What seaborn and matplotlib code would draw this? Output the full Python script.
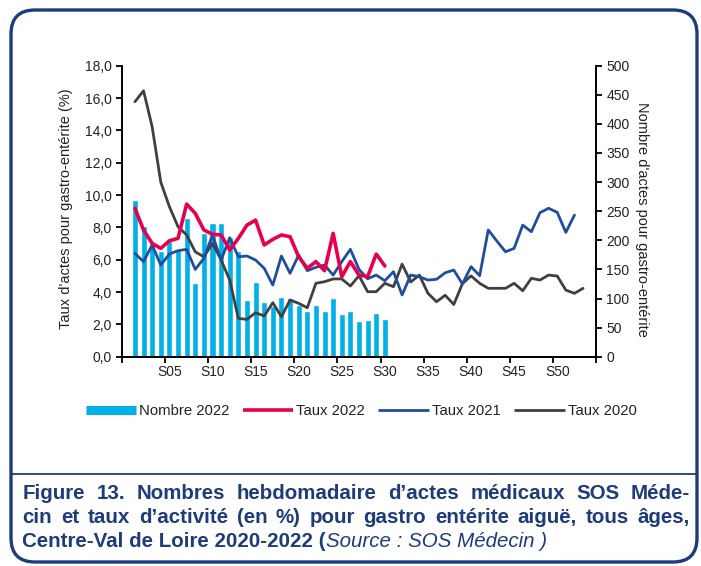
import numpy as np
import matplotlib
matplotlib.use('Agg')
import matplotlib.pyplot as plt
import matplotlib.transforms as mtransforms
from matplotlib.patches import FancyBboxPatch
from matplotlib.lines import Line2D
import seaborn as sns

# données
weeks_2022 = list(range(1, 31))
nombre_2022 = [269, 224, 195, 182, 198, 185, 239, 127, 213, 229, 229, 206, 182, 97, 129,
               94, 87, 103, 101, 89, 79, 89, 79, 101, 73, 79, 61, 63, 75, 65]
taux_2022 = [9.18, 7.84, 7.01, 6.70, 7.17, 7.32, 9.44, 8.87, 7.84, 7.57, 7.53, 6.60, 7.32, 8.14, 8.45,
             6.91, 7.26, 7.53, 7.42, 6.18, 5.47, 5.88, 5.32, 7.63, 4.95, 5.88, 5.05, 4.95, 6.35, 5.61]

weeks_2021 = list(range(1, 53))
taux_2021 = [6.39, 5.88, 6.91, 5.67, 6.35, 6.56, 6.64, 5.40, 6.08, 7.53, 5.98, 7.36, 6.18, 6.23, 5.98,
             5.47, 4.43, 6.23, 5.16, 6.29, 5.32, 5.53, 5.67, 5.05, 5.88, 6.64, 5.40, 4.82, 5.05, 4.70,
             5.26, 3.82, 5.05, 4.95, 4.74, 4.79, 5.19, 5.36, 4.50, 5.57, 5.01,
             7.84, 7.15, 6.49, 6.70, 8.14, 7.73, 8.91, 9.18, 8.93, 7.69, 8.76]

weeks_2020 = list(range(1, 54))
taux_2020 = [15.77, 16.45, 14.22, 10.80, 9.28, 8.04, 7.53, 6.49, 6.18, 7.01, 5.98, 4.74, 2.37, 2.31, 2.72,
             2.52, 3.34, 2.47, 3.51, 3.30, 3.03, 4.54, 4.64, 4.81, 4.81, 4.37, 5.01, 4.02, 4.02, 4.54,
             4.33, 5.73, 4.62, 5.05, 3.92, 3.40, 3.80, 3.23, 4.52, 5.00,
             4.54, 4.23, 4.23, 4.23, 4.54, 4.08, 4.85, 4.74, 5.05, 4.99, 4.12, 3.92, 4.23]

week_labels = ['S05', 'S10', 'S15', 'S20', 'S25', 'S30', 'S35', 'S40', 'S45', 'S50']
week_label_pos = [5, 10, 15, 20, 25, 30, 35, 40, 45, 50]

CYAN = '#00b0e6'
RED = '#e6004f'
BLUE = '#1f4e9c'
GRAY = '#404040'
NAVY = '#1e3b7a'

sns.set_style('ticks')
plt.rcParams['font.family'] = ['Liberation Sans', 'DejaVu Sans']

W, H = 701, 566
fig = plt.figure(figsize=(W / 100, H / 100), dpi=100)
ax = fig.add_axes([122 / W, 1 - 356.7 / H, (596 - 122) / W, (356.7 - 65.7) / H])
ax2 = ax.twinx()

sns.barplot(x=weeks_2022, y=nombre_2022, native_scale=True, ax=ax2, color=CYAN,
            saturation=1, width=0.7, errorbar=None)
sns.lineplot(x=weeks_2020, y=taux_2020, ax=ax, color=GRAY, lw=2)
sns.lineplot(x=weeks_2021, y=taux_2021, ax=ax, color=BLUE, lw=2)
sns.lineplot(x=weeks_2022, y=taux_2022, ax=ax, color=RED, lw=2.6)

ax.set_zorder(ax2.get_zorder() + 1)
ax.patch.set_visible(False)

ax.set_xlim(-0.5, 54.5)
ax.set_ylim(0, 18)
ax2.set_ylim(0, 500)

yt = np.arange(0, 18.1, 2)
ax.set_yticks(yt, [f"{v:.1f}".replace('.', ',') for v in yt])
ax2.set_yticks(range(0, 501, 50))
xt = np.arange(-0.5, 55, 5)
ax.set_xticks(xt, [''] * len(xt))
ax.set_xticks(week_label_pos, week_labels, minor=True)
ax.tick_params(axis='x', which='minor', length=0, pad=6)

for a in (ax, ax2):
    for s in a.spines.values():
        s.set_color('black')
        s.set_linewidth(1.4)
    a.spines['top'].set_visible(False)
    a.tick_params(which='major', direction='out', length=4, width=1.3, colors='black',
                  labelcolor='#222222', labelsize=10)
    a.tick_params(which='minor', labelcolor='#222222', labelsize=10)
ax.spines['right'].set_visible(False)
ax2.spines['left'].set_visible(False)
ax2.set_xlabel('')
ax.set_xlabel('')

ax.set_ylabel("Taux d'actes pour gastro-entérite (%)", fontsize=10.5, color='#222222')
ax.yaxis.set_label_coords(-0.104, 0.51)
ax2.set_ylabel("Nombre d'actes pour gastro-entérite", fontsize=10.5, color='#222222',
               rotation=-90, va='center')
ax2.yaxis.set_label_coords(1.098, 0.47)

handles = [Line2D([], [], color=CYAN, lw=6.5, solid_capstyle='butt'),
           Line2D([], [], color=RED, lw=2.6, solid_capstyle='butt'),
           Line2D([], [], color=BLUE, lw=2, solid_capstyle='butt'),
           Line2D([], [], color=GRAY, lw=2, solid_capstyle='butt')]
labels = ['Nombre 2022', 'Taux 2022', 'Taux 2021', 'Taux 2020']
leg = fig.legend(handles, labels, loc='center', bbox_to_anchor=(361 / W, 1 - 411 / H),
                 ncol=4, frameon=False, fontsize=10.7, handlelength=3.4,
                 handletextpad=0.2, columnspacing=0.9)
for t in leg.get_texts():
    t.set_color('#222222')

# cadre arrondi + séparateur
pix = mtransforms.IdentityTransform()
frame = FancyBboxPatch((11, H - 562), 686, 552, boxstyle='round,pad=0,rounding_size=24',
                       transform=pix, fill=False, ec=NAVY, lw=2.4)
fig.patches.append(frame)
fig.lines.append(Line2D([11 / W, 697 / W], [1 - 474.3 / H] * 2, transform=fig.transFigure,
                        color=NAVY, lw=1.3))

# légende de la figure (justifiée)
renderer = fig.canvas.get_renderer()
FS = 14.8
cap_kw = dict(fontsize=FS, fontweight='bold', color=NAVY, va='baseline', ha='left')


def justified(text, y_px, x0=22.5, x1=690):
    words = text.split(' ')
    objs = [fig.text(0, 1 - y_px / H, w, **cap_kw) for w in words]
    widths = [o.get_window_extent(renderer).width for o in objs]
    gap = (x1 - x0 - sum(widths)) / (len(words) - 1)
    x = x0
    for o, w in zip(objs, widths):
        o.set_x(x / W)
        x += w + gap


justified("Figure 13. Nombres hebdomadaire d’actes médicaux SOS Méde-", 499.3)
justified("cin et taux d’activité (en %) pour gastro entérite aiguë, tous âges,", 523)
t1 = fig.text(22.5 / W, 1 - 546.7 / H, "Centre-Val de Loire 2020-2022 (", **cap_kw)
w1 = t1.get_window_extent(renderer).width
fig.text((22.5 + w1) / W, 1 - 546.7 / H, "Source : SOS Médecin )", fontsize=FS, style='italic',
         color=NAVY, va='baseline', ha='left')

fig.savefig('out.png', dpi=100)
